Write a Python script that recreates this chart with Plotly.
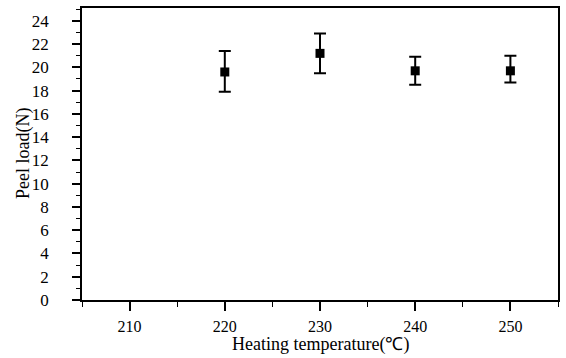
import plotly.graph_objects as go

temps = [220, 230, 240, 250]
peel_load = [19.6, 21.2, 19.7, 19.7]
err_plus = [1.8, 1.7, 1.2, 1.3]
err_minus = [1.7, 1.7, 1.2, 1.0]

x_tickvals = [210, 220, 230, 240, 250]
y_tickvals = list(range(0, 25, 2))

font_fam = "Liberation Serif, Times New Roman, serif"

fig = go.Figure()
fig.add_trace(go.Scatter(
    x=temps, y=peel_load, mode="markers",
    marker=dict(symbol="square", size=9, color="black"),
    error_y=dict(type="data", symmetric=False, array=err_plus, arrayminus=err_minus,
                 color="black", thickness=2, width=6),
    showlegend=False,
))

fig.update_layout(
    width=566, height=358,
    margin=dict(l=82, r=8, t=8, b=58),
    paper_bgcolor="white", plot_bgcolor="white",
    font=dict(family=font_fam, size=16, color="black"),
    annotations=[
        dict(text="Heating temperature(℃)", xref="paper", yref="paper", x=0.5, y=0,
             xanchor="center", yanchor="bottom", yshift=-57, showarrow=False,
             font=dict(size=18, family=font_fam)),
        dict(text="Peel load(N)", xref="paper", yref="paper", x=0, y=0.5,
             xanchor="center", yanchor="middle", xshift=-59, textangle=-90, showarrow=False,
             font=dict(size=18, family=font_fam)),
    ],
)
fig.update_xaxes(
    range=[205, 255], tickvals=x_tickvals, ticks="outside", ticklen=9, tickwidth=1.5,
    tickcolor="black", showline=True, linewidth=1.6, linecolor="black", mirror=True,
    showgrid=False, zeroline=False, automargin=False,
    minor=dict(tickvals=[205, 215, 225, 235, 245, 255], ticks="outside", ticklen=5, tickwidth=1.3, tickcolor="black"),
    tickfont=dict(size=16, family=font_fam), ticklabelstandoff=2,
)
fig.update_yaxes(
    range=[0, 25.1], tickvals=y_tickvals, ticks="outside", ticklen=8, tickwidth=1.5,
    tickcolor="black", showline=True, linewidth=1.6, linecolor="black", mirror=True,
    showgrid=False, zeroline=False, automargin=False,
    minor=dict(dtick=1, tick0=0, ticks="outside", ticklen=4, tickwidth=1.3, tickcolor="black"),
    tickfont=dict(size=17, family=font_fam), ticklabelstandoff=20,
)

fig.write_html("out.html")
